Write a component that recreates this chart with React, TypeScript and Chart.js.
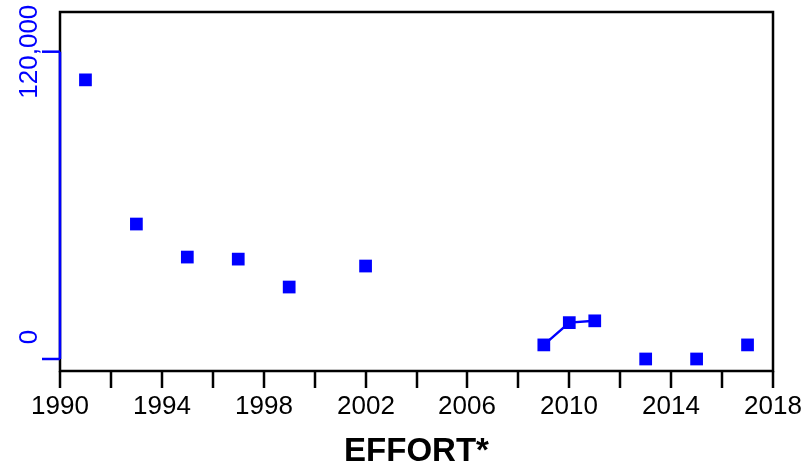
import React, { useEffect, useRef } from "react";
import { Chart, registerables } from "chart.js";

Chart.register(...registerables);

const years = [1991, 1993, 1995, 1997, 1999, 2002, 2009, 2010, 2011, 2013, 2015, 2017];
const effort = [109000, 52700, 39800, 39000, 28100, 36300, 5500, 14200, 14900, 0, 0, 5500];
const xTicks = [1990, 1992, 1994, 1996, 1998, 2000, 2002, 2004, 2006, 2008, 2010, 2012, 2014, 2016, 2018];
const xTickLabels = ["1990", "", "1994", "", "1998", "", "2002", "", "2006", "", "2010", "", "2014", "", "2018"];
const yTicks = [0, 120000];
const yTickLabels = ["0", "120,000"];
const xTitle = "EFFORT*";

const BLUE = "#0000ff";
const FONT = "'Liberation Sans', Arial, sans-serif";

const axesPlugin = {
  id: "rAxes",
  afterDraw(chart: any) {
    const { ctx, chartArea, scales } = chart;
    const xs = scales.x;
    const ys = scales.y;
    ctx.save();
    // box
    ctx.strokeStyle = "#000";
    ctx.lineWidth = 2.5;
    ctx.strokeRect(chartArea.left, chartArea.top, chartArea.right - chartArea.left, chartArea.bottom - chartArea.top);

    // x ticks
    ctx.fillStyle = "#000";
    ctx.font = `26px ${FONT}`;
    ctx.textAlign = "center";
    ctx.textBaseline = "alphabetic";
    xTicks.forEach((t, i) => {
      const px = Math.round(xs.getPixelForValue(t));
      ctx.beginPath();
      ctx.moveTo(px, chartArea.bottom);
      ctx.lineTo(px, chartArea.bottom + 17);
      ctx.stroke();
      if (xTickLabels[i]) ctx.fillText(xTickLabels[i], px, chartArea.bottom + 43);
    });

    // y axis (blue)
    const y0 = ys.getPixelForValue(yTicks[0]);
    const y1 = ys.getPixelForValue(yTicks[yTicks.length - 1]);
    ctx.strokeStyle = BLUE;
    ctx.lineWidth = 2.5;
    ctx.beginPath();
    ctx.moveTo(chartArea.left, y0);
    ctx.lineTo(chartArea.left, y1);
    ctx.stroke();
    ctx.fillStyle = BLUE;
    yTicks.forEach((t, i) => {
      const py = ys.getPixelForValue(t);
      ctx.beginPath();
      ctx.moveTo(chartArea.left, py);
      ctx.lineTo(chartArea.left - 18, py);
      ctx.stroke();
      const off = t === 0 ? -22 : 0;
      ctx.save();
      ctx.translate(chartArea.left - 23, py + off);
      ctx.rotate(-Math.PI / 2);
      ctx.textAlign = "center";
      ctx.textBaseline = "alphabetic";
      ctx.font = `26px ${FONT}`;
      ctx.fillText(yTickLabels[i], 0, 0);
      ctx.restore();
    });

    // title
    ctx.fillStyle = "#000";
    ctx.font = `bold 33px ${FONT}`;
    ctx.textAlign = "center";
    ctx.textBaseline = "alphabetic";
    ctx.fillText(xTitle, (chartArea.left + chartArea.right) / 2, 461);
    ctx.restore();
  },
};

export default function App() {
  const ref = useRef<HTMLCanvasElement>(null);
  useEffect(() => {
    if (!ref.current) return;
    const data: { x: number; y: number | null }[] = [];
    years.forEach((yr, i) => {
      data.push({ x: yr, y: effort[i] });
      if (i < years.length - 1 && years[i + 1] - yr > 1) data.push({ x: yr + 1, y: null });
    });
    const chart = new Chart(ref.current, {
      type: "line",
      data: {
        datasets: [
          {
            data: data as any,
            borderColor: BLUE,
            backgroundColor: BLUE,
            borderWidth: 2.5,
            pointStyle: "rect",
            pointRadius: 9,
            pointBorderWidth: 0,
            pointBackgroundColor: BLUE,
            spanGaps: false,
            tension: 0,
          },
        ],
      },
      options: {
        animation: false,
        responsive: false,
        layout: { padding: { left: 60, right: 31, top: 12, bottom: 99 } },
        scales: {
          x: { type: "linear", min: 1990, max: 2018, display: false },
          y: { type: "linear", min: -4690, max: 135500, display: false },
        },
        plugins: { legend: { display: false }, tooltip: { enabled: false } },
      },
      plugins: [axesPlugin],
    });
    return () => chart.destroy();
  }, []);
  return (
    <div style={{ position: "absolute", left: 0, top: 0, width: 804, height: 470, background: "#fff" }}>
      <canvas ref={ref} width={804} height={470} style={{ width: 804, height: 470 }} />
    </div>
  );
}
